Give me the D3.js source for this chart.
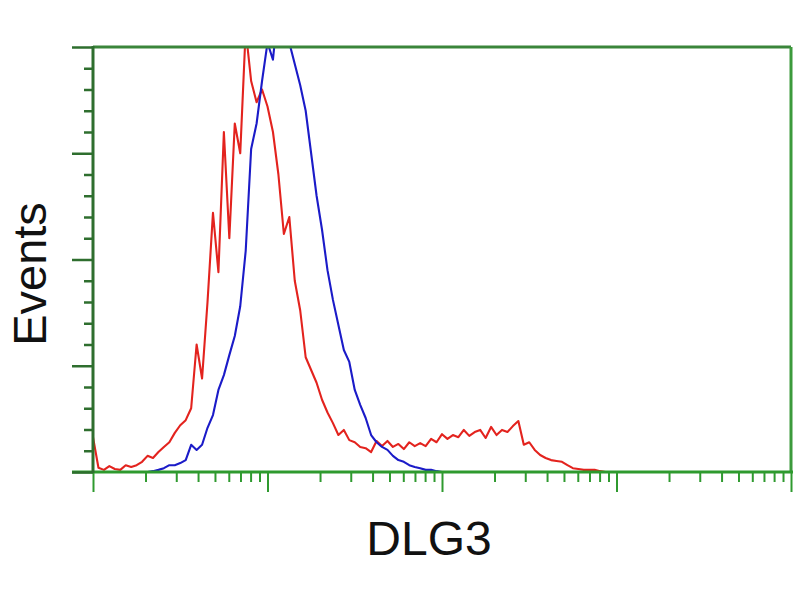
<!DOCTYPE html>
<html>
<head>
<meta charset="utf-8">
<script src="https://cdn.jsdelivr.net/npm/d3@7"></script>
<style>
  html, body { margin: 0; padding: 0; background: #ffffff; }
  svg { display: block; }
</style>
</head>
<body>
<svg id="chart" width="800" height="600"></svg>
<script>
// ---- data (histogram counts per channel; 128 channels spanning 4 log decades) ----
const channelsPerDecade = 32;
const redStart = 0;
const redCounts = [
  8.2, 1, 0.5, 1.4, 0.7, 0.5, 1.6, 1.2, 1.6, 2.4,
  3.8, 3.3, 4.7, 5.9, 7, 9.2, 11, 12.2, 15, 30,
  22, 40, 61, 47, 80, 55, 82, 75, 104, 92,
  87, 90, 86, 80, 70, 56, 60, 45, 38, 27,
  24, 21, 17, 14, 11.5, 8.7, 9.9, 7.5, 7, 5.9,
  5.6, 4.7, 7.3, 6.1, 7.3, 5.9, 6.6, 5.4, 7, 6.1,
  6.8, 6.1, 7.8, 7, 8.9, 7.8, 8.7, 8.2, 9.9, 8.5,
  9.4, 9.9, 8, 10.6, 8.7, 9.9, 9.4, 10.8, 12, 6.4,
  7, 5.2, 4, 3.3, 2.8, 2.6, 2.4, 1.6, 0.9, 0.7,
  0.5, 0.5, 0.5, 0.2, 0
];
const blueStart = 10;
const blueCounts = [
  0, 0.2, 0.5, 0.9, 1.6, 1.6, 2.1, 2.8, 6.4, 5.2,
  6.4, 10.4, 13.4, 19.3, 22.8, 27.5, 32, 39, 52, 76,
  82, 92, 101, 97, 110, 112, 101, 96, 91, 85,
  75, 65, 57, 47.5, 40.5, 34.6, 28.7, 25.9, 19.3, 15.8,
  12.7, 8.7, 7, 5.9, 5.2, 3.8, 2.8, 2.4, 1.6, 1.2,
  0.9, 0.5, 0.5, 0.2, 0
];
const xDomain = [1, 10000];
const yMajorTicks = [0, 25, 50, 75, 100];
const yMinorTicks = [5, 10, 15, 20, 30, 35, 40, 45, 55, 60, 65, 70, 80, 85, 90, 95];
const xLabel = "DLG3";
const yLabel = "Events";

// ---- layout ----
const pLeft = 93, pRight = 791, pTop = 47, pBottom = 472;
const svg = d3.select("#chart");

const x = d3.scaleLog().domain(xDomain).range([pLeft, pRight]);
const y = d3.scaleLinear().domain([0, 100]).range([pBottom, pTop]);

function toPoints(start, counts) {
  return counts.map((v, i) => ({ v: Math.pow(10, (start + i) / channelsPerDecade), c: v }));
}

svg.append("defs").append("clipPath").attr("id", "plotclip")
  .append("rect").attr("x", pLeft).attr("y", pTop).attr("width", pRight - pLeft).attr("height", pBottom - pTop + 2);

const lineGen = d3.line().x(d => x(d.v)).y(d => y(d.c));

const g = svg.append("g").attr("clip-path", "url(#plotclip)");
g.append("path").datum(toPoints(redStart, redCounts))
  .attr("d", lineGen).attr("fill", "none").attr("stroke", "#e3231e")
  .attr("stroke-width", 2.1).attr("stroke-linejoin", "round");
g.append("path").datum(toPoints(blueStart, blueCounts))
  .attr("d", lineGen).attr("fill", "none").attr("stroke", "#1b1bc8")
  .attr("stroke-width", 2.1).attr("stroke-linejoin", "round");

// frame: top and right
svg.append("line").attr("x1", pLeft).attr("x2", pRight).attr("y1", pTop).attr("y2", pTop)
  .attr("stroke", "#3a853a").attr("stroke-width", 3);
svg.append("line").attr("x1", pRight).attr("x2", pRight).attr("y1", pTop).attr("y2", pBottom)
  .attr("stroke", "#3c9a3c").attr("stroke-width", 3);

// x axis
const decades = [1, 10, 100, 1000, 10000];
const xMinor = [];
for (let d = 1; d < 10000; d *= 10) for (let k = 2; k <= 9; k++) xMinor.push(d * k);

const xAxisMajor = d3.axisBottom(x).tickValues(decades).tickSize(20).tickFormat("");
const xAxisMinor = d3.axisBottom(x).tickValues(xMinor).tickSize(10).tickFormat("");
const gx1 = svg.append("g").attr("transform", `translate(0,${pBottom})`).call(xAxisMinor);
const gx2 = svg.append("g").attr("transform", `translate(0,${pBottom})`).call(xAxisMajor);
[gx1, gx2].forEach(gg => {
  gg.selectAll("path").remove();
  gg.selectAll("line").attr("stroke", "#2f9a2f").attr("stroke-width", 2);
});
svg.append("line").attr("x1", 72).attr("x2", pRight + 2).attr("y1", pBottom).attr("y2", pBottom)
  .attr("stroke", "#2e9a2e").attr("stroke-width", 3);

// y axis
const yAxisMajor = d3.axisLeft(y).tickValues(yMajorTicks).tickSize(21).tickFormat("");
const yAxisMinor = d3.axisLeft(y).tickValues(yMinorTicks).tickSize(9).tickFormat("");
const gy1 = svg.append("g").attr("transform", `translate(${pLeft},0)`).call(yAxisMinor);
const gy2 = svg.append("g").attr("transform", `translate(${pLeft},0)`).call(yAxisMajor);
[gy1, gy2].forEach(gg => {
  gg.selectAll("path").remove();
  gg.selectAll("line").attr("stroke", "#2e6e2e").attr("stroke-width", 2.5);
});
svg.append("line").attr("x1", pLeft).attr("x2", pLeft).attr("y1", pTop - 1).attr("y2", pBottom + 1)
  .attr("stroke", "#2e6e2e").attr("stroke-width", 3);

// labels
svg.append("text").attr("x", 429).attr("y", 555)
  .attr("text-anchor", "middle")
  .attr("font-family", "Liberation Sans, Arial, sans-serif")
  .attr("font-size", 48).attr("fill", "#111")
  .text(xLabel);
svg.append("text")
  .attr("transform", "translate(46,274) rotate(-90)")
  .attr("text-anchor", "middle")
  .attr("font-family", "Liberation Sans, Arial, sans-serif")
  .attr("font-size", 47).attr("fill", "#111")
  .text(yLabel);
</script>
</body>
</html>
